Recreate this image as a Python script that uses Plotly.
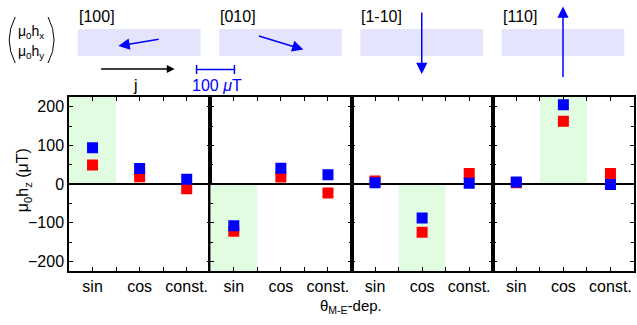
import plotly.graph_objects as go
from plotly.subplots import make_subplots

# ---- data -------------------------------------------------------------
categories = ["sin", "cos", "const."]
directions = ["[100]", "[010]", "[1-10]", "[110]"]

# out-of-plane field mu0*hz (uT) per current direction and angular dependence
red_vals = [[49, 19, -12], [-122, 18, -23], [8, -125, 27], [3, 162, 27]]
blue_vals = [[94, 40, 12], [-108, 41, 24], [3, -88, 2], [5, 205, -1]]

# dominant component per direction (shaded)
highlight = ["sin", "sin", "cos", "cos"]

# in-plane field (mu0*hx, mu0*hy) in uT
hx = [-110, 121, 0, 0]
hy = [-18, -37, -166, 189]
scale_bar_uT = 100

# ---- geometry helpers ------------------------------------------------
W, H = 637, 325
L, R, T, B = 69, 636, 97, 271
PX_PER_UT = 0.38
panel_w = (R - L) / 4


def px(x):
    return (x - L) / (R - L)


def py(y):
    return (B - y) / (B - T)


YR = 225
FAM = "Liberation Sans, Arial, sans-serif"
font = dict(family=FAM, size=16, color="black")
small = dict(family=FAM, size=14, color="black")


def label(text, x, y, xanchor="center", **kw):
    fig.add_annotation(text=text, xref="paper", yref="paper", x=px(x), y=py(y),
                       xanchor=xanchor, yanchor="middle", showarrow=False, **kw)


fig = make_subplots(rows=1, cols=4, horizontal_spacing=0, shared_yaxes=False)

xs = [0.5, 1.5, 2.5]
for i in range(4):
    col = i + 1
    fig.add_trace(go.Scatter(x=xs, y=red_vals[i], mode="markers",
                             marker=dict(symbol="square", size=11, color="#ff0000"),
                             showlegend=False), row=1, col=col)
    fig.add_trace(go.Scatter(x=xs, y=blue_vals[i], mode="markers",
                             marker=dict(symbol="square", size=11, color="#0000ff"),
                             showlegend=False), row=1, col=col)

    fig.update_xaxes(range=[0, 3], tickvals=xs, ticktext=categories,
                     ticks="inside", ticklen=4, tickcolor="black",
                     minor=dict(tick0=0, dtick=0.5, ticks="inside", ticklen=4, tickcolor="black"),
                     showline=True, linecolor="black", linewidth=1.5, mirror="allticks",
                     showgrid=False, zeroline=False, tickfont=font, row=1, col=col)
    fig.update_yaxes(range=[-YR, YR], tick0=0, dtick=100,
                     ticks="inside", ticklen=4, tickcolor="black",
                     minor=dict(tick0=0, dtick=50, ticks="inside", ticklen=3, tickcolor="black"),
                     showline=True, linecolor="black", linewidth=1.5, mirror="allticks",
                     showgrid=False, zeroline=True, zerolinecolor="black", zerolinewidth=1.5,
                     showticklabels=(i == 0), tickfont=font, row=1, col=col)

    # shaded dominant component, from zero towards the sign of its value
    k = categories.index(highlight[i])
    sign = 1 if blue_vals[i][k] > 0 else -1
    sfx = "" if i == 0 else str(col)
    fig.add_shape(type="rect", xref="x" + sfx, yref="y" + sfx,
                  x0=k, x1=k + 1, y0=0, y1=sign * YR,
                  fillcolor="#e2fce2", line=dict(width=0), layer="below")

    # header: direction label, lavender strip, in-plane field arrow
    p0 = L + i * panel_w
    fig.add_shape(type="rect", xref="paper", yref="paper",
                  x0=px(p0 + 9), x1=px(p0 + 132), y0=py(29), y1=py(56),
                  fillcolor="#e4e4fc", line=dict(width=0))
    label(directions[i], p0 + 8, 17, xanchor="left", font=font)
    cx, cy = p0 + 70.5, 42.5
    dx, dy = hx[i] * PX_PER_UT, -hy[i] * PX_PER_UT
    fig.add_annotation(xref="paper", yref="paper", x=px(cx + dx / 2), y=py(cy + dy / 2),
                       ax=-dx, ay=-dy, axref="pixel", ayref="pixel", text="",
                       showarrow=True, arrowhead=2, arrowsize=1.5, arrowwidth=1.5,
                       arrowcolor="#0000ff", standoff=0)

# current direction arrow
fig.add_annotation(xref="paper", yref="paper", x=px(175), y=py(69), ax=-75, ay=0,
                   axref="pixel", ayref="pixel", text="", showarrow=True,
                   arrowhead=2, arrowsize=1.2, arrowwidth=1.3, arrowcolor="black", standoff=0)
label("j", 136, 86, font=font)

# scale bar
bar_x0 = 197
bar_x1 = bar_x0 + scale_bar_uT * PX_PER_UT
fig.add_shape(type="line", xref="paper", yref="paper", x0=px(bar_x0), x1=px(bar_x1),
              y0=py(69.5), y1=py(69.5), line=dict(color="#0000ff", width=1.5))
for bx in (bar_x0, bar_x1):
    fig.add_shape(type="line", xref="paper", yref="paper", x0=px(bx), x1=px(bx),
                  y0=py(65), y1=py(74), line=dict(color="#0000ff", width=1.5))
label("%d <i>μ</i>T" % scale_bar_uT, 218, 86, font=dict(family=FAM, size=16, color="#0000ff"))

# (mu0 hx, mu0 hy) vector label
label("μ<sub>0</sub>h<sub>x</sub>", 31, 32, font=small)
label("μ<sub>0</sub>h<sub>y</sub>", 31, 52, font=small)
fig.add_shape(type="path", xref="paper", yref="paper",
              path="M %f,%f Q %f,%f %f,%f" % (px(15), py(17), px(3), py(40), px(15), py(63)),
              line=dict(color="black", width=1))
fig.add_shape(type="path", xref="paper", yref="paper",
              path="M %f,%f Q %f,%f %f,%f" % (px(48), py(17), px(60), py(40), px(48), py(63)),
              line=dict(color="black", width=1))

# axis titles
label("μ<sub>0</sub>h<sub>z</sub> (μT)", 23, 180, textangle=-90, font=font)
label("θ<sub>M-E</sub>-dep.", 352, 306, font=dict(family=FAM, size=15, color="black"))

fig.update_layout(width=W, height=H, margin=dict(l=L, r=W - R, t=T, b=H - B),
                  paper_bgcolor="white", plot_bgcolor="white", showlegend=False)

fig.write_html("out.html")
